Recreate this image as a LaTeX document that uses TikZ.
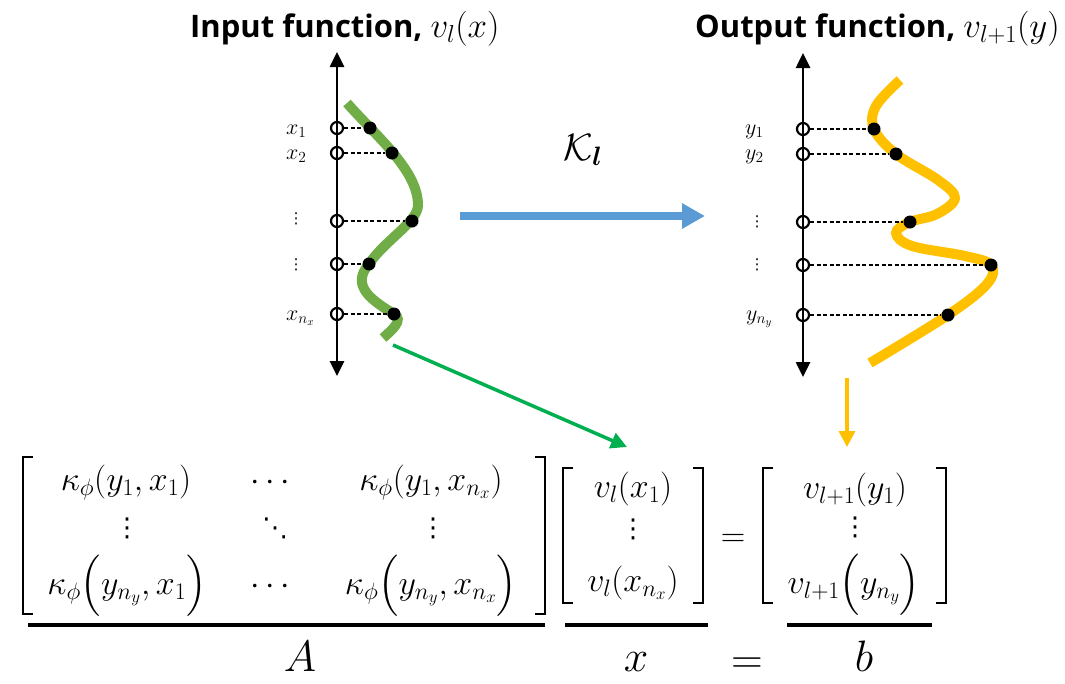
\RequirePackage{fix-cm}
\documentclass[tikz,border=0pt]{standalone}
\usepackage{amsmath,amssymb}
\usepackage{fontspec}
\IfFontExistsTF{Open Sans Bold}{\newfontfamily\titlefont{Open Sans Bold}}{\newfontfamily\titlefont{Noto Sans}[FakeBold=3]}
\newfontfamily\dvfont{DejaVu Sans}
\usetikzlibrary{arrows.meta}
\definecolor{cgreen}{HTML}{70AD47}
\definecolor{cagreen}{HTML}{00B050}
\definecolor{cblue}{HTML}{5B9BD5}
\definecolor{corange}{HTML}{FFC000}
\newcommand\fsz[1]{\fontsize{#1}{#1}\selectfont}
\begin{document}
\begin{tikzpicture}[x=1pt,y=-1pt,
  axisline/.style={line width=2.6pt,{Triangle[length=15pt,width=14pt]}-{Triangle[length=15pt,width=14pt]}},
  opendot/.style={circle,draw,line width=2.2pt,inner sep=0pt,minimum size=12pt},
  fulldot/.style={circle,fill=black,inner sep=0pt,minimum size=13pt},
  guide/.style={line width=1.2pt,dash pattern=on 4pt off 2.5pt},
  ptlabel/.style={inner sep=0pt,font=\fsz{22}},
  vd/.style={inner sep=0pt,font=\dvfont\fsz{15}},
  bigvd/.style={inner sep=0pt,font=\dvfont\fsz{26}},
  titletext/.style={inner sep=0pt,font=\titlefont\fsz{31}},
  titlemath/.style={font=\fsz{35}},
  mat/.style={inner sep=0pt,font=\fsz{34}},
  biglabel/.style={inner sep=0pt,font=\fsz{44}},
  brk/.style={line width=2.5pt,line join=miter},
  uline/.style={line width=4.5pt},
  curve/.style={line width=10pt}]
\useasboundingbox (0,0) rectangle (1065,683);

% titles
\node[titletext,anchor=base west] (tin) at (190,37) {Input function, {\fsz{35}$v_l(x)$}};
\node[titletext,anchor=base west] (tout) at (695,37) {Output function, {\fsz{35}$v_{l+1}(y)$}};

% axes
\coordinate (latop) at (337,52);
\coordinate (labot) at (337,376);
\coordinate (ratop) at (803,53);
\coordinate (rabot) at (803,377);
\draw[axisline] (labot) -- (latop);
\draw[axisline] (rabot) -- (ratop);

% curves
\draw[curve,color=cgreen] (347,103) .. controls (375,135) and (418,170) .. (418,205)
  .. controls (418,222) and (385,240) .. (369,264)
  .. controls (349,287) and (375,302) .. (394,314)
  .. controls (404,320) and (392,330) .. (383,338);
\draw[curve,color=corange] plot[smooth,tension=0.6] coordinates {(900,80) (876,106) (874,129) (896,154) (938,180) (955,198) (937,214) (910,222) (896,233) (912,246) (965,256) (991,265) (987,284) (948,315) (870,363)};

% left points
\node[opendot] (ox1) at (337,128) {};
\node[opendot] (ox2) at (337,153) {};
\node[opendot] (ox3) at (337,221) {};
\node[opendot] (ox4) at (337,264) {};
\node[opendot] (ox5) at (337,314) {};
\node[fulldot] (dx1) at (370,128) {};
\node[fulldot] (dx2) at (392,153) {};
\node[fulldot] (dx3) at (412,221) {};
\node[fulldot] (dx4) at (369,264) {};
\node[fulldot] (dx5) at (394,314) {};
\foreach \i in {1,...,5} {\draw[guide] (ox\i) -- (dx\i);}

% right points
\node[opendot] (oy1) at (803,129) {};
\node[opendot] (oy2) at (803,154) {};
\node[opendot] (oy3) at (803,222) {};
\node[opendot] (oy4) at (803,265) {};
\node[opendot] (oy5) at (803,315) {};
\node[fulldot] (dy1) at (874,129) {};
\node[fulldot] (dy2) at (896,154) {};
\node[fulldot] (dy3) at (910,222) {};
\node[fulldot] (dy4) at (991,265) {};
\node[fulldot] (dy5) at (948,315) {};
\foreach \i in {1,...,5} {\draw[guide] (oy\i) -- (dy\i);}

% point labels
\node[ptlabel,anchor=base west] (lx1) at (286,134) {$x_1$};
\node[ptlabel,anchor=base west] (lx2) at (286,159) {$x_2$};
\node[vd] (lx3) at (296,219) {⋮};
\node[vd] (lx4) at (296,265) {⋮};
\node[ptlabel,anchor=base west] (lx5) at (286,320) {$x_{n_x}$};
\node[ptlabel,anchor=base west] (ly1) at (745,134) {$y_1$};
\node[ptlabel,anchor=base west] (ly2) at (745,159) {$y_2$};
\node[vd] (ly3) at (757,222) {⋮};
\node[vd] (ly4) at (757,265) {⋮};
\node[ptlabel,anchor=base west] (ly5) at (746,320) {$y_{n_y}$};

% operator
\node[inner sep=0pt,font=\fsz{38}] (kl) at (583,150) {$\mathcal{K}_{\boldsymbol{l}}$};
\coordinate (bs) at (460,216);
\coordinate (be) at (705,216);
\draw[line width=8pt,color=cblue,-{Triangle[length=23pt,width=24pt]}] (bs) -- (be);

% connectors to equation
\coordinate (gs) at (393,345);
\coordinate (ge) at (627,447);
\draw[line width=3.5pt,color=cagreen,-{Triangle[length=16pt,width=16pt]}] (gs) -- (ge);
\coordinate (os) at (847,378);
\coordinate (oe) at (847,447);
\draw[line width=3.5pt,color=corange,-{Triangle[length=16pt,width=16pt]}] (os) -- (oe);

% matrix A
\draw[brk] (33,457) -- (23,457) -- (23,614) -- (33,614);
\draw[brk] (535,457) -- (545,457) -- (545,614) -- (535,614);
\node[mat,anchor=base] (a11) at (126,490) {$\kappa_\phi(y_1,x_1)$};
\node[mat,anchor=base] (a12) at (273,490) {$\cdots$};
\node[mat,anchor=base] (a13) at (431,490) {$\kappa_\phi(y_1,x_{n_x})$};
\node[bigvd] (a21) at (127,528) {⋮};
\node[bigvd] (a22) at (275,528) {⋱};
\node[bigvd] (a23) at (433,528) {⋮};
\node[mat,anchor=base] (a31) at (127,594) {$\kappa_\phi\Bigl(y_{n_y},x_1\Bigr)$};
\node[mat,anchor=base] (a32) at (273,594) {$\cdots$};
\node[mat,anchor=base] (a33) at (431,594) {$\kappa_\phi\Bigl(y_{n_y},x_{n_x}\Bigr)$};

% vector x
\draw[brk] (573,468) -- (563,468) -- (563,603) -- (573,603);
\draw[brk] (693,468) -- (703,468) -- (703,603) -- (693,603);
\node[mat,anchor=base] (x1) at (633,497) {$v_l(x_1)$};
\node[bigvd] (x2) at (633,529) {⋮};
\node[mat,anchor=base] (x3) at (633,591) {$v_l(x_{n_x})$};

\node[mat,anchor=base] (eqm) at (733,546) {$=$};

% vector b
\draw[brk] (773,468) -- (763,468) -- (763,603) -- (773,603);
\draw[brk] (936,468) -- (946,468) -- (946,603) -- (936,603);
\node[mat,anchor=base] (b1) at (855,498) {$v_{l+1}(y_1)$};
\node[bigvd] (b2) at (855,527) {⋮};
\node[mat,anchor=base] (b3) at (854,593) {$v_{l+1}\Bigl(y_{n_y}\Bigr)$};

% underlines and labels
\draw[uline] (28,625) -- (545,625);
\draw[uline] (565,625) -- (708,625);
\draw[uline] (787,625) -- (932,625);
\node[biglabel,anchor=base] (lA) at (300,671) {$A$};
\node[biglabel,anchor=base] (lxx) at (636,671) {$x$};
\node[biglabel,anchor=base] (leq) at (747,673) {$=$};
\node[biglabel,anchor=base] (lb) at (864,671) {$b$};
\end{tikzpicture}
\end{document}
